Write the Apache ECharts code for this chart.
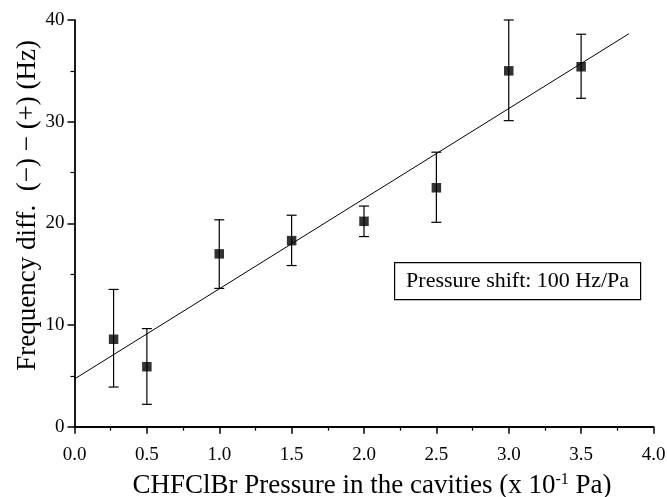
<!DOCTYPE html>
<html><head><meta charset="utf-8">
<script src="https://cdn.jsdelivr.net/npm/echarts@6/dist/echarts.min.js"></script>
<style>html,body{margin:0;padding:0;background:#fff}#c{width:667px;height:497px}</style>
</head><body><div id="c"></div>
<script>
// Data
const pressure = [0.27, 0.5, 1.0, 1.5, 2.0, 2.5, 3.0, 3.5];
const freqDiff = [8.6, 5.9, 17.0, 18.3, 20.2, 23.5, 35.0, 35.4];
const errLow  = [3.9, 2.2, 13.6, 15.85, 18.7, 20.1, 30.1, 32.3];
const errHigh = [13.5, 9.65, 20.35, 20.8, 21.7, 27.0, 40.0, 38.6];
const fitX = [-0.05, 3.83];
const fitY = [4.25, 38.65];
const xTicks = ['0.0','0.5','1.0','1.5','2.0','2.5','3.0','3.5','4.0'];
const annotation = 'Pressure shift: 100 Hz/Pa';

const font = 'Liberation Serif';
const points = pressure.map((x, i) => [x, freqDiff[i]]);
const bars = pressure.map((x, i) => [x, errLow[i], errHigh[i]]);
const fit = fitX.map((x, i) => [x, fitY[i]]);

const chart = echarts.init(document.getElementById('c'));
chart.setOption({
  animation: false,
  backgroundColor: '#fff',
  grid: { left: 74.5, right: 13.5, top: 20, bottom: 70.3, containLabel: false, outerBoundsMode: 'none' },
  xAxis: {
    type: 'value', min: 0, max: 4, interval: 0.5,
    axisLine: { lineStyle: { color: '#000', width: 1.8 } },
    axisTick: { show: true, length: 7, inside: false, lineStyle: { color: '#000', width: 1.5 } },
    minorTick: { show: true, splitNumber: 2, length: 4, lineStyle: { color: '#000', width: 1.2 } },
    splitLine: { show: false },
    axisLabel: { color: '#000', fontFamily: font, fontSize: 19, margin: 19,
      formatter: v => xTicks[Math.round(v / 0.5)] },
    name: 'CHFClBr Pressure in the cavities (x 10{sup|-1} Pa)',
    nameLocation: 'middle', nameGap: 45, nameMoveOverlap: false,
    nameTextStyle: { color: '#000', fontFamily: font, fontSize: 27, padding: [0, 0, 0, 16],
      rich: { sup: { fontFamily: font, fontSize: 16, verticalAlign: 'top', padding: [0,0,12,0], color: '#000' } } }
  },
  yAxis: {
    type: 'value', min: 0, max: 40, interval: 10,
    axisLine: { show: true, lineStyle: { color: '#000', width: 1.8 } },
    axisTick: { show: true, length: 7, lineStyle: { color: '#000', width: 1.5 } },
    minorTick: { show: true, splitNumber: 2, length: 4, lineStyle: { color: '#000', width: 1.2 } },
    splitLine: { show: false },
    axisLabel: { color: '#000', fontFamily: font, fontSize: 19, margin: 10 },
    name: 'Frequency diff.  (\u2212) \u2212 (+) (Hz)',
    nameLocation: 'middle', nameGap: 33, nameMoveOverlap: false,
    nameTextStyle: { color: '#000', fontFamily: font, fontSize: 27, padding: [0, 0, 0, 36] }
  },
  series: [
    {
      type: 'line', data: fit, showSymbol: false, symbol: 'none', clip: false,
      lineStyle: { color: '#000', width: 1 }, z: 2
    },
    {
      type: 'custom', data: bars, z: 3,
      renderItem: (params, api) => {
        const x = api.value(0);
        const lo = api.coord([x, api.value(1)]);
        const hi = api.coord([x, api.value(2)]);
        const w = 5;
        const st = { stroke: '#000', lineWidth: 1.2 };
        return { type: 'group', children: [
          { type: 'line', shape: { x1: lo[0], y1: lo[1], x2: hi[0], y2: hi[1] }, style: st },
          { type: 'line', shape: { x1: lo[0]-w, y1: lo[1], x2: lo[0]+w, y2: lo[1] }, style: st },
          { type: 'line', shape: { x1: hi[0]-w, y1: hi[1], x2: hi[0]+w, y2: hi[1] }, style: st }
        ]};
      }
    },
    {
      type: 'scatter', data: points, symbol: 'rect', symbolSize: 9.5, z: 4,
      itemStyle: { color: '#000' }
    }
  ],
  graphic: [
    { type: 'group', left: 394, top: 262, children: [
      { type: 'rect', shape: { x: 0, y: 0, width: 246, height: 37 },
        style: { fill: '#fff', stroke: '#000', lineWidth: 1.2 } },
      { type: 'text', x: 123, y: 19,
        style: { text: annotation, fontFamily: font, fontSize: 22, fill: '#000', align: 'center', verticalAlign: 'middle' } }
    ]}
  ]
});
</script>
</body></html>
